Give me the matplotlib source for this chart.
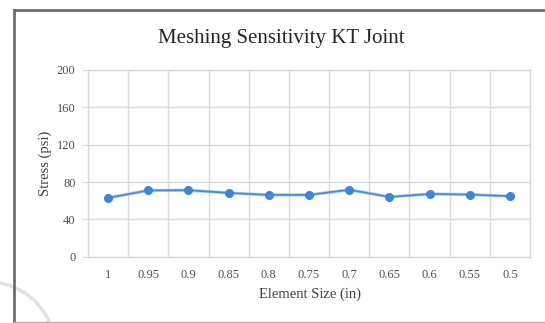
import matplotlib.pyplot as plt
from matplotlib.patches import Arc
from matplotlib.lines import Line2D

sizes = ['1', '0.95', '0.9', '0.85', '0.8', '0.75', '0.7', '0.65', '0.6', '0.55', '0.5']
stress = [63, 71, 71.2, 68.3, 66.2, 66.2, 71.7, 64, 67.2, 66.6, 64.8]
yticks = [0, 40, 80, 120, 160, 200]

plt.rcParams['font.family'] = ['Liberation Serif', 'DejaVu Serif']

W, H = 545, 323
fig = plt.figure(figsize=(W / 100, H / 100), dpi=100)
ax = fig.add_axes([88 / W, 1 - 256.7 / H, (530 - 88) / W, (256.7 - 70) / H])

grid_c = '#d9d9d9'
x = list(range(len(sizes)))
ax.plot(x, stress, color='#5b9bd5', lw=2.4, alpha=0.45, zorder=3)
ax.plot(x, stress, color='#4a8fd6', lw=1.3, marker='o', ms=5.5,
        mfc='#3f86d2', mec='#3f86d2', zorder=4)

ax.set_xlim(-0.5, len(sizes) - 0.5)
ax.set_ylim(0, 200)
ax.set_yticks(yticks)
ax.set_xticks(x)
ax.set_xticklabels(sizes)
ax.set_xticks([i - 0.5 for i in range(len(sizes) + 1)], minor=True)
ax.grid(True, which='minor', axis='x', color=grid_c, lw=1)
ax.grid(True, which='major', axis='y', color=grid_c, lw=1)
ax.tick_params(axis='x', which='both', length=0, pad=9, labelsize=9, labelcolor='#505050')
ax.tick_params(axis='y', length=4, color=grid_c, pad=5, labelsize=9, labelcolor='#505050')
for s in ax.spines.values():
    s.set_color(grid_c)
    s.set_linewidth(1)

fig.text(281.5 / W, 1 - 39 / H, 'Meshing Sensitivity KT Joint', ha='center', va='center',
         fontsize=15, color='#262626')
fig.text(310 / W, 1 - 294 / H, 'Element Size (in)', ha='center', va='center',
         fontsize=10.5, color='#404040')
fig.text(45 / W, 1 - 163 / H, 'Stress (psi)', ha='center', va='center', rotation=90,
         fontsize=10.5, color='#404040')

# chart frame
fig.add_artist(Line2D([13.5 / W, 13.5 / W], [0, 1 - 10 / H], transform=fig.transFigure,
                      color='#6e6e6e', lw=2))
fig.add_artist(Line2D([13.5 / W, 1], [1 - 10 / H, 1 - 10 / H], transform=fig.transFigure,
                      color='#6e6e6e', lw=2))
fig.add_artist(Line2D([13.5 / W, 1], [1 - 321.5 / H, 1 - 321.5 / H], transform=fig.transFigure,
                      color='#b0b0b0', lw=1))
# faint arc at lower left
fig.add_artist(Arc((-12 / W, 1 - 349 / H), 134 / W, 134 / H, theta1=0, theta2=110,
                   transform=fig.transFigure, color='#e2e2e2', lw=2.5))

fig.savefig('out.png', dpi=100, facecolor='white')
